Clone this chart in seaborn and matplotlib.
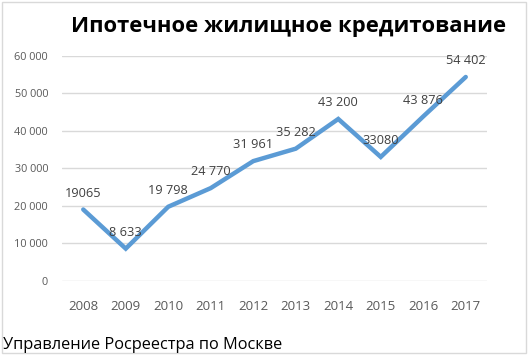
import numpy as np
import pandas as pd
import matplotlib
matplotlib.use("Agg")
import matplotlib.pyplot as plt
import seaborn as sns
from matplotlib.patches import Rectangle
from matplotlib.ticker import FuncFormatter

years = [2008, 2009, 2010, 2011, 2012, 2013, 2014, 2015, 2016, 2017]
loans = [19065, 8633, 19798, 24770, 31961, 35282, 43200, 33080, 43876, 54402]
point_labels = ["19065", "8 633", "19 798", "24 770", "31 961", "35 282",
                "43 200", "33080", "43 876", "54 402"]
title = "Ипотечное жилищное кредитование"
source = "Управление Росреестра по Москве"

df = pd.DataFrame({"year": years, "loans": loans})

sns.set_style("white")
plt.rcParams['font.family'] = ['Open Sans', 'DejaVu Sans']

fig = plt.figure(figsize=(5.29, 3.57), dpi=100)
ax = fig.add_axes([0.1172, 0.2129, 0.8034, 0.6303])

sns.lineplot(data=df, x="year", y="loans", ax=ax, color="#5B9BD5",
             linewidth=3.2, solid_capstyle="round", solid_joinstyle="miter")

for x, y, s in zip(years, loans, point_labels):
    ax.annotate(s, (x, y), xytext=(0, 7), textcoords="offset points",
                ha="center", va="bottom", fontsize=9.2, color="#404040")

ax.set_xlim(2007.5, 2017.5)
ax.set_ylim(0, 60000)
ax.set_yticks(range(0, 60001, 10000))
ax.yaxis.set_major_formatter(FuncFormatter(lambda v, p: f"{int(v):,}".replace(",", " ")))
ax.set_xticks(years)
ax.set_xticklabels([str(y) for y in years])
ax.grid(axis="y", color="#D9D9D9", linewidth=1)
ax.set_axisbelow(True)
for sp in ax.spines.values():
    sp.set_visible(False)
ax.tick_params(axis="y", length=0, pad=10, labelsize=7.8, labelcolor="#595959")
ax.tick_params(axis="x", length=0, pad=14, labelsize=9.5, labelcolor="#595959")
ax.set_xlabel("")
ax.set_ylabel("")

fig.text(0.546, 0.925, title, ha="center", va="center", fontsize=15.8,
         fontweight="bold", color="black")
fig.text(0.006, 0.033, source, ha="left", va="center", fontsize=11.8, color="black")

fig.patches.append(Rectangle((0.003, 0.01), 0.991, 0.985, transform=fig.transFigure,
                             fill=False, edgecolor="#D9D9D9", linewidth=1))

fig.savefig("out.png", dpi=100)
